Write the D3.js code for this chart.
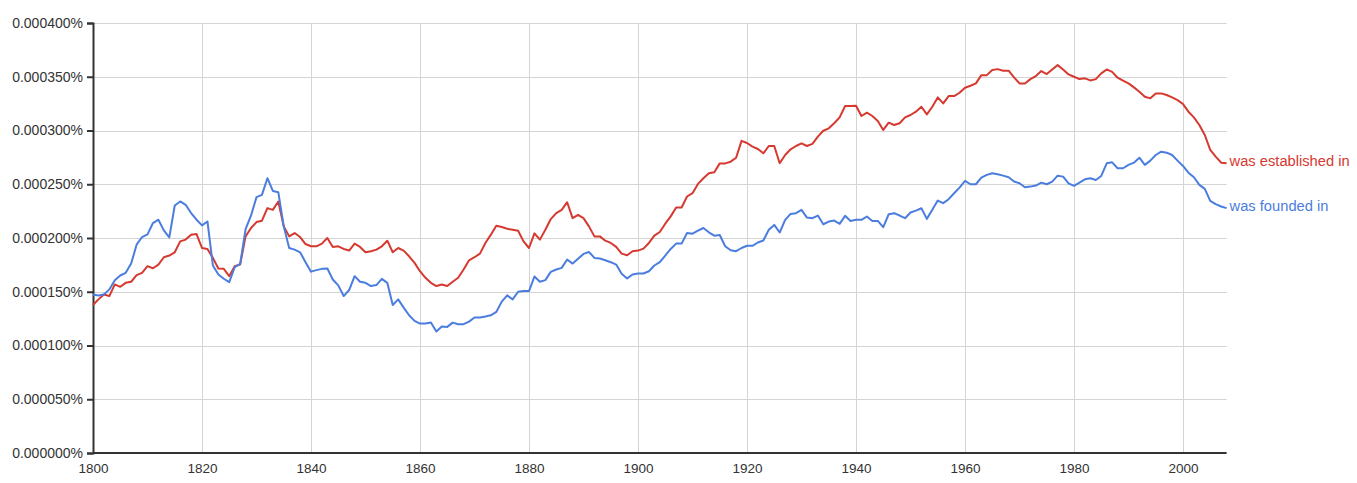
<!DOCTYPE html>
<html>
<head>
<meta charset="utf-8">
<script src="https://cdn.jsdelivr.net/npm/d3@7"></script>
<style>
  html, body { margin: 0; padding: 0; background: #fff; }
  svg { display: block; }
  text { font-family: Arial, "Liberation Sans", sans-serif; }
</style>
</head>
<body>
<svg id="chart" width="1357" height="483"></svg>
<script>
// Values in units of 0.000001% (e.g. 150 = 0.000150%), one per year from 1800 to 2008
const startYear = 1800;
const endYear = 2008;
const seriesNames = ["was established in", "was founded in"];
const seriesColors = ["#d6392f", "#4b7ddf"];

const establishedIn = [
  137.7,142.9,147.5,146.0,156.8,154.6,158.3,159.3,165.4,167.6,
  173.8,171.9,175.3,182.1,183.7,186.7,196.9,198.5,203.1,203.7,
  190.7,189.8,181.5,171.6,171.3,164.5,173.8,175.3,201.5,209.3,
  214.8,216.1,227.8,226.2,234.0,210.8,201.5,204.6,200.9,194.4,
  192.3,192.3,194.8,200.0,191.7,192.3,189.8,188.3,194.8,191.7,
  186.7,187.7,189.2,192.3,197.5,186.7,190.7,188.3,183.0,176.9,
  169.1,163.0,158.3,155.3,156.8,155.3,159.3,163.0,170.7,179.3,
  182.1,185.5,195.4,203.1,211.4,210.2,208.6,207.7,206.8,196.9,
  190.7,204.3,198.5,207.7,217.6,223.2,226.2,233.3,218.5,221.6,
  218.5,210.8,201.5,201.5,197.5,195.4,191.7,185.5,184.0,187.7,
  188.3,190.1,195.4,202.2,205.6,213.3,220.1,228.4,228.4,238.6,
  241.7,250.3,255.6,260.2,261.1,269.4,269.4,271.0,274.7,290.4,
  288.4,285.0,282.8,278.8,285.6,285.6,269.5,277.2,282.5,285.6,
  288.1,285.6,287.5,294.3,299.8,302.0,306.7,312.2,322.8,322.8,
  323.1,313.5,316.6,313.5,308.8,300.5,307.3,305.1,306.7,312.2,
  314.4,317.5,322.1,315.0,322.1,330.8,325.2,332.0,332.0,335.1,
  339.8,341.6,343.8,351.5,351.5,356.2,357.1,355.6,355.6,349.4,
  343.8,343.8,347.8,350.6,355.3,352.5,356.8,360.8,356.8,352.2,
  350.0,347.8,348.5,346.6,347.8,353.1,356.8,354.6,349.1,346.3,
  343.8,340.1,336.1,331.4,329.9,334.5,334.5,333.0,330.8,328.3,
  324.6,317.5,312.2,305.1,295.8,281.9,275.7,270.1,269.5
];

const foundedIn = [
  147.5,146.6,147.5,152.2,160.8,165.1,167.6,176.2,193.8,200.9,
  203.4,213.9,217.0,207.1,200.6,230.2,234.0,230.9,223.2,217.0,
  211.7,215.4,174.4,166.1,162.1,159.0,172.8,175.9,208.3,221.0,
  238.0,240.1,255.6,243.8,242.6,210.8,190.7,189.2,186.7,177.5,
  168.7,170.1,171.3,171.6,161.4,155.9,146.0,151.6,164.5,159.3,
  158.3,155.3,156.2,162.0,158.3,137.7,142.9,135.2,128.1,122.9,
  120.4,120.4,121.3,113.0,117.6,117.3,121.3,119.8,119.8,122.2,
  126.0,126.0,126.9,128.1,131.2,140.8,146.6,142.9,150.0,150.6,
  150.6,164.2,159.3,160.8,168.5,170.7,172.2,180.0,176.2,180.6,
  185.2,187.0,181.5,180.9,179.3,177.5,175.3,166.7,162.4,166.1,
  167.0,167.0,169.1,174.4,177.5,183.7,189.8,194.8,194.8,204.6,
  204.0,206.8,209.3,205.3,202.2,202.8,192.3,188.6,187.7,190.7,
  192.8,192.7,195.8,197.7,207.6,212.2,205.1,216.9,222.4,223.1,
  226.2,219.0,218.4,220.9,212.8,215.3,216.2,213.2,220.6,215.9,
  216.9,216.9,220.0,215.9,215.9,210.1,222.1,223.1,220.9,218.4,
  223.7,225.5,227.7,217.8,226.2,234.8,232.4,236.1,241.6,246.9,
  253.1,250.0,250.0,256.2,258.7,260.2,259.3,258.0,256.5,252.5,
  250.9,247.2,247.8,248.8,251.5,250.0,252.5,258.0,257.1,250.9,
  248.5,251.5,254.6,255.6,254.0,257.7,269.5,270.4,264.9,264.9,
  268.0,270.1,274.7,268.0,272.0,277.2,280.3,279.4,277.2,272.0,
  267.0,260.8,256.5,249.4,245.7,234.6,231.5,229.3,227.8
];

const yTicks = [0, 50, 100, 150, 200, 250, 300, 350, 400];
const xTicks = [1800, 1820, 1840, 1860, 1880, 1900, 1920, 1940, 1960, 1980, 2000];

const years = d3.range(startYear, endYear + 1);
const seriesData = [establishedIn, foundedIn];

const svg = d3.select("#chart");
const margin = { left: 93, top: 23 };
const plotBottom = 453;

const x = d3.scaleLinear().domain([startYear, endYear]).range([margin.left, 1226.6]);
const y = d3.scaleLinear().domain([0, 400]).range([plotBottom, margin.top]);

// gridlines
const grid = svg.append("g");
grid.selectAll(".hg").data(yTicks.filter(d => d > 0)).enter().append("line")
  .attr("x1", margin.left).attr("x2", x(endYear))
  .attr("y1", d => Math.round(y(d)) + 0.5).attr("y2", d => Math.round(y(d)) + 0.5)
  .attr("stroke", "#d4d4d4").attr("stroke-width", 1);
grid.selectAll(".vg").data(xTicks.filter(d => d > startYear)).enter().append("line")
  .attr("y1", margin.top).attr("y2", plotBottom)
  .attr("x1", d => Math.round(x(d)) + 0.5).attr("x2", d => Math.round(x(d)) + 0.5)
  .attr("stroke", "#d4d4d4").attr("stroke-width", 1);

// y axis
const yAxis = d3.axisLeft(y).tickValues(yTicks).tickSize(6).tickPadding(4)
  .tickFormat(d => (d / 1e6).toFixed(6) + "%");
const gy = svg.append("g").attr("transform", `translate(${margin.left},0)`).call(yAxis);
gy.select(".domain").attr("stroke", "#333").attr("stroke-width", 2);
gy.selectAll(".tick line").attr("stroke", "#333").attr("stroke-width", 2);
gy.selectAll(".tick text").attr("fill", "#333").style("font-size", "14px")
  .style("font-family", "Arial, 'Liberation Sans', sans-serif");

// x axis
const xAxis = d3.axisBottom(x).tickValues(xTicks).tickSize(0).tickPadding(10.5)
  .tickFormat(d3.format("d"));
const gx = svg.append("g").attr("transform", `translate(0,${plotBottom})`).call(xAxis);
gx.select(".domain").attr("stroke", "#333").attr("stroke-width", 2)
  .attr("d", `M${margin.left},0H${x(endYear)}`);
gx.selectAll(".tick text").attr("fill", "#333").style("font-size", "13.5px")
  .style("font-family", "Arial, 'Liberation Sans', sans-serif");

// lines
const line = d3.line().x((d, i) => x(years[i])).y(d => y(d));
seriesData.forEach((vals, k) => {
  svg.append("path").datum(vals)
    .attr("fill", "none")
    .attr("stroke", seriesColors[k])
    .attr("stroke-width", 2)
    .attr("stroke-linejoin", "round")
    .attr("d", line);
  svg.append("text")
    .attr("x", x(endYear) + 3)
    .attr("y", y(vals[vals.length - 1]))
    .attr("dy", "0.18em")
    .attr("fill", seriesColors[k])
    .style("font-size", "14.7px")
    .text(seriesNames[k]);
});
</script>
</body>
</html>
